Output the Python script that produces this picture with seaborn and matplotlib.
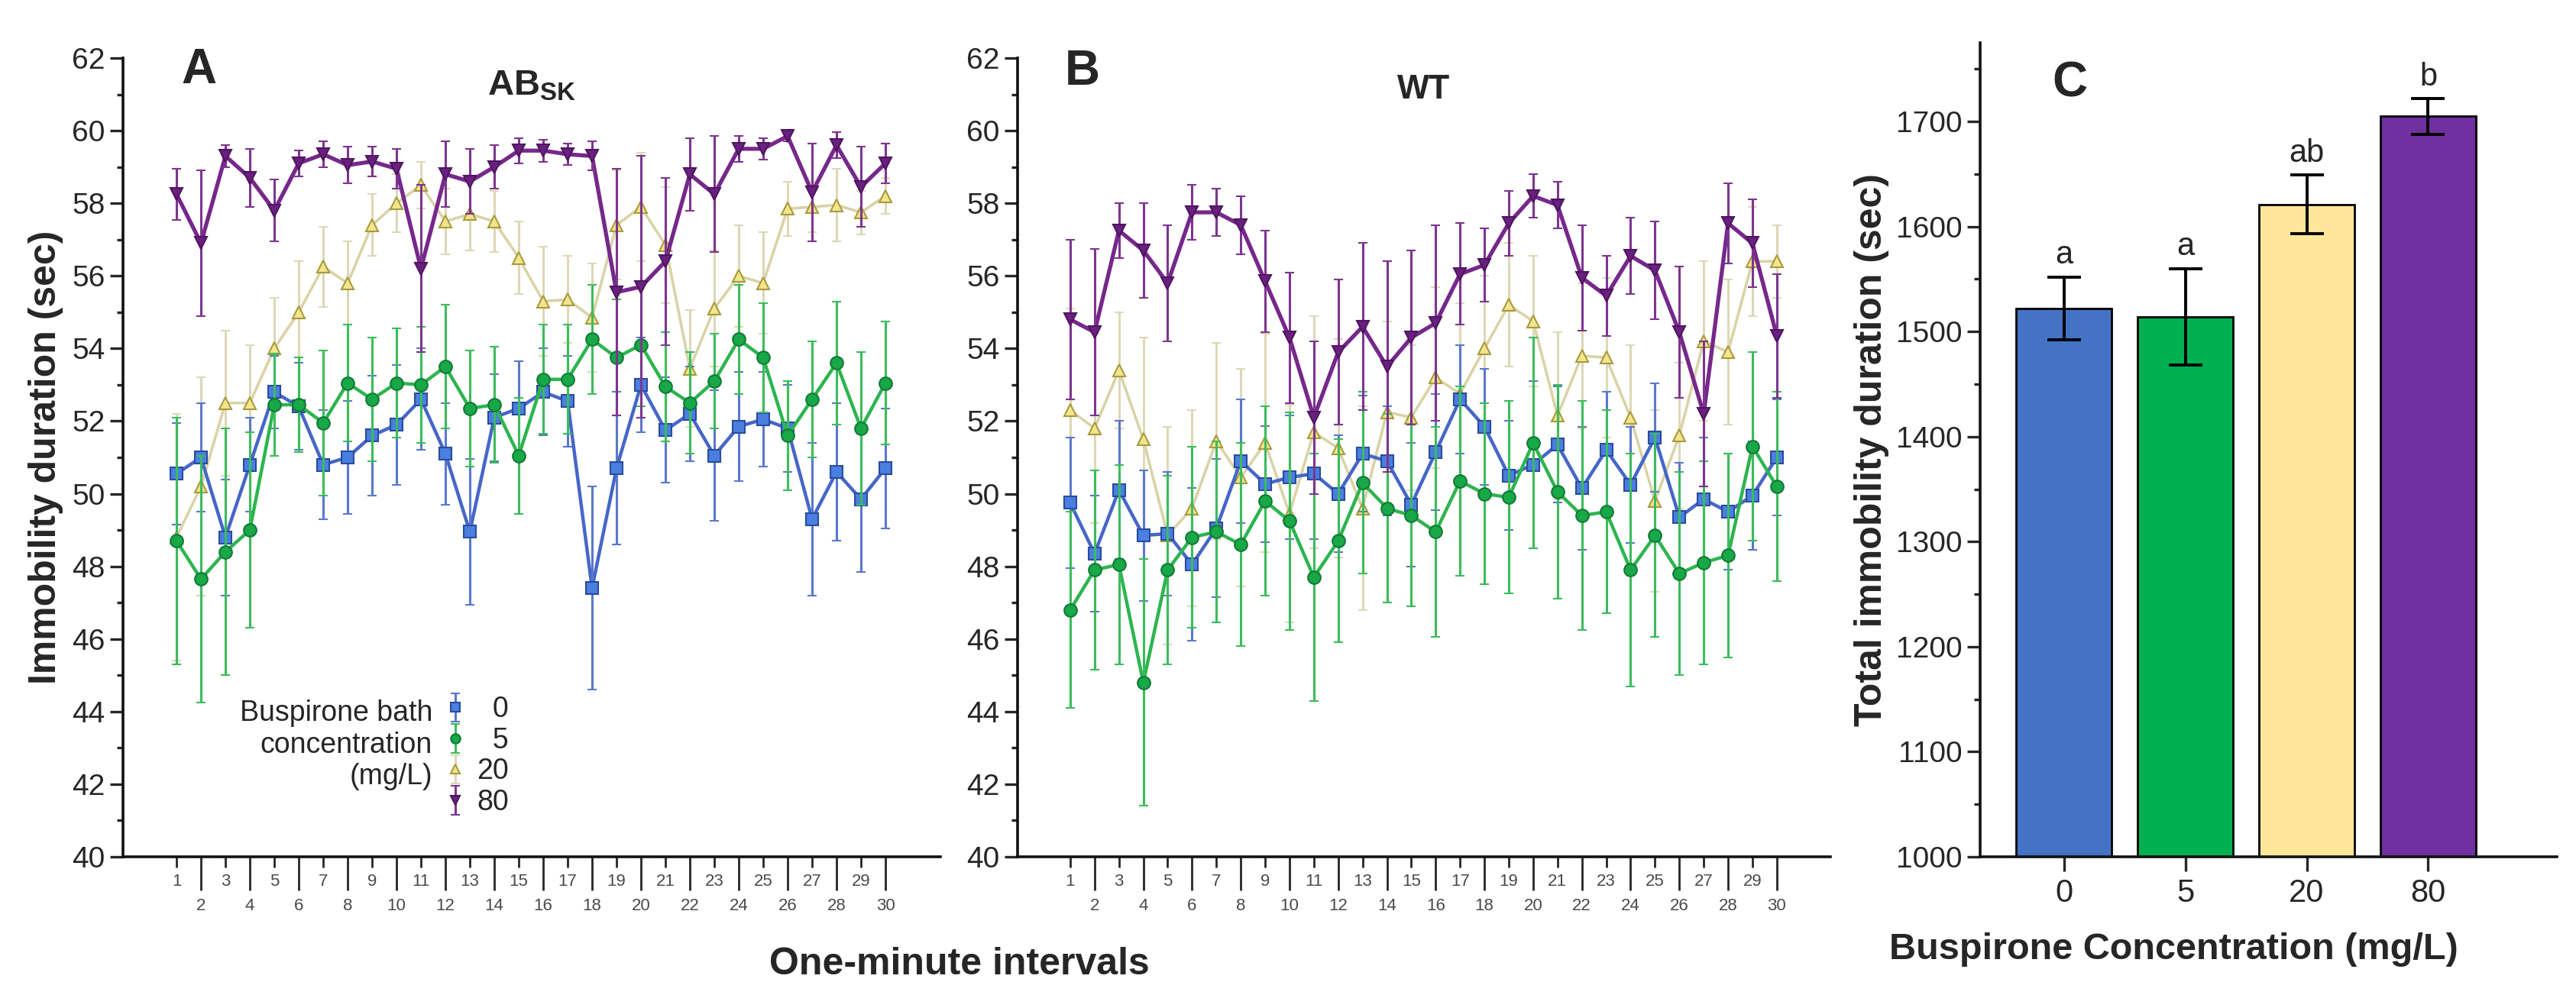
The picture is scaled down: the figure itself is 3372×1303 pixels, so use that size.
import numpy as np
import pandas as pd
import matplotlib
matplotlib.use("Agg")
import matplotlib.pyplot as plt
import seaborn as sns
from matplotlib.ticker import MultipleLocator

sns.set_theme(style="ticks")
plt.rcParams['font.family'] = ['Liberation Sans', 'DejaVu Sans']
plt.rcParams['mathtext.fontset'] = 'custom'
plt.rcParams['mathtext.bf'] = 'Liberation Sans:bold'
plt.rcParams['mathtext.rm'] = 'Liberation Sans'

minutes = list(range(1, 31))
conc_labels = ["0", "5", "20", "80"]

# A: AB_SK, mean immobility per minute and SE
a0 = [50.55, 51.0, 48.8, 50.8, 52.8, 52.4, 50.8, 51.0, 51.6, 51.9, 52.6, 51.1, 48.95, 52.1, 52.35,
      52.8, 52.55, 47.4, 50.7, 53.0, 51.75, 52.2, 51.05, 51.85, 52.05, 51.8, 49.3, 50.6, 49.85, 50.7]
a0_se = [1.4, 1.5, 1.6, 1.3, 1.0, 1.2, 1.5, 1.55, 1.65, 1.65, 1.4, 1.4, 2.0, 1.2, 1.3,
         1.2, 1.25, 2.8, 2.1, 1.3, 1.45, 1.3, 1.8, 1.5, 1.3, 1.2, 2.1, 1.9, 2.0, 1.65]
a5 = [48.7, 47.65, 48.4, 49.0, 52.45, 52.45, 51.95, 53.05, 52.6, 53.05, 53.0, 53.5, 52.35, 52.45, 51.05,
      53.15, 53.15, 54.25, 53.75, 54.1, 52.95, 52.5, 53.1, 54.25, 53.75, 51.6, 52.6, 53.6, 51.8, 53.05]
a5_se = [3.4, 3.4, 3.4, 2.7, 1.4, 1.3, 2.0, 1.6, 1.7, 1.5, 1.6, 1.7, 1.6, 1.6, 1.6,
         1.5, 1.5, 1.5, 1.6, 1.7, 1.5, 1.4, 1.3, 1.5, 1.5, 1.5, 1.6, 1.7, 2.1, 1.7]
a20 = [48.8, 50.2, 52.5, 52.5, 54.0, 55.0, 56.25, 55.8, 57.4, 58.0, 58.5, 57.5, 57.7, 57.5, 56.5,
       55.3, 55.35, 54.85, 57.4, 57.9, 56.85, 53.45, 55.1, 56.0, 55.8, 57.85, 57.9, 57.95, 57.75, 58.2]
a20_se = [3.4, 3.0, 2.0, 1.6, 1.4, 1.4, 1.1, 1.15, 0.85, 0.8, 0.65, 0.9, 1.0, 0.85, 1.0,
          1.5, 1.2, 1.5, 1.5, 1.5, 1.6, 1.6, 1.6, 1.4, 1.4, 0.75, 0.7, 1.0, 0.6, 0.5]
a80 = [58.25, 56.9, 59.3, 58.7, 57.8, 59.1, 59.35, 59.05, 59.15, 58.95, 56.2, 58.8, 58.6, 59.0, 59.45,
       59.45, 59.35, 59.3, 55.55, 55.7, 56.4, 58.8, 58.25, 59.5, 59.5, 59.85, 58.3, 59.6, 58.45, 59.1]
a80_se = [0.7, 2.0, 0.3, 0.8, 0.85, 0.35, 0.35, 0.5, 0.4, 0.55, 2.3, 0.9, 0.9, 0.6, 0.35,
          0.3, 0.3, 0.4, 3.4, 3.6, 2.3, 1.0, 1.6, 0.35, 0.3, 0.15, 1.35, 0.35, 1.1, 0.55]

# B: WT
b0 = [49.75, 48.35, 50.1, 48.85, 48.9, 48.05, 49.05, 50.9, 50.27, 50.45, 50.55, 50.0, 51.1, 50.9, 49.7,
      51.15, 52.6, 51.85, 50.5, 50.8, 51.35, 50.15, 51.2, 50.25, 51.55, 49.35, 49.85, 49.5, 49.95, 51.0]
b0_se = [1.8, 1.6, 1.9, 1.8, 1.7, 2.1, 1.9, 1.7, 1.6, 1.7, 1.8, 1.6, 1.6, 1.5, 1.7,
         1.6, 1.5, 1.6, 1.5, 2.3, 1.6, 1.7, 1.6, 1.6, 1.5, 1.5, 1.7, 1.6, 1.5, 1.6]
b5 = [46.8, 47.9, 48.05, 44.8, 47.9, 48.8, 48.95, 48.6, 49.8, 49.25, 47.7, 48.7, 50.3, 49.6, 49.4,
      48.95, 50.35, 50.0, 49.9, 51.4, 50.05, 49.4, 49.5, 47.9, 48.85, 47.8, 48.1, 48.3, 51.3, 50.2]
b5_se = [2.7, 2.75, 2.75, 3.4, 2.6, 2.5, 2.5, 2.8, 2.6, 3.0, 3.4, 2.8, 2.5, 2.6, 2.5,
         2.9, 2.6, 2.5, 2.65, 2.9, 2.95, 3.15, 2.8, 3.2, 2.8, 2.8, 2.8, 2.8, 2.6, 2.6]
b20 = [52.3, 51.8, 53.4, 51.5, 48.85, 49.6, 51.45, 50.45, 51.4, 49.45, 51.7, 51.25, 49.6, 52.25, 52.1,
       53.2, 52.75, 54.0, 55.2, 54.75, 52.15, 53.8, 53.75, 52.1, 49.8, 51.6, 54.2, 53.9, 56.4, 56.4]
b20_se = [2.8, 2.6, 1.6, 2.8, 3.0, 2.7, 2.7, 3.0, 3.0, 3.0, 3.2, 3.0, 2.8, 2.5, 2.0,
          2.5, 2.5, 2.0, 1.7, 1.8, 2.3, 2.0, 2.2, 2.0, 2.5, 2.0, 2.2, 2.0, 1.5, 1.0]
b80 = [54.8, 54.45, 57.25, 56.7, 55.8, 57.75, 57.75, 57.4, 55.85, 54.3, 52.1, 53.9, 54.6, 53.5, 54.3,
       54.7, 56.05, 56.3, 57.45, 58.2, 57.95, 55.95, 55.45, 56.55, 56.15, 54.45, 52.2, 57.45, 56.9, 54.35]
b80_se = [2.2, 2.3, 0.75, 1.3, 1.6, 0.75, 0.65, 0.8, 1.4, 1.8, 2.1, 2.0, 2.3, 2.9, 2.4,
          2.7, 1.4, 1.0, 0.9, 0.6, 0.65, 1.45, 1.1, 1.05, 1.35, 1.8, 2.0, 1.1, 1.2, 1.7]

# C: total immobility
c_mean = [1522, 1514, 1621, 1705]
c_se = [30, 46, 28, 17]
c_letters = ["a", "a", "ab", "b"]

# styles per concentration: line, marker face, marker edge, errorbar colour
styles = {
    "0":  dict(line="#4666c8", mfc="#4a7fe0", mec="#2a4c9e", ecol="#5a78cc", marker="s", ms=11, lw=3.2, z=3),
    "5":  dict(line="#2db54f", mfc="#18a847", mec="#117a36", ecol="#3cbc5c", marker="o", ms=12, lw=3.2, z=4),
    "20": dict(line="#d9d3a6", mfc="#f3e58e", mec="#a89a3c", ecol="#ddd8b6", marker="^", ms=12, lw=2.6, z=2),
    "80": dict(line="#76288a", mfc="#6a2080", mec="#4e155e", ecol="#7d3590", marker="v", ms=12, lw=3.8, z=5),
}
bar_colors = ["#4472c4", "#00b050", "#ffe699", "#7030a0"]

fig = plt.figure(figsize=(33.72, 13.03), dpi=100)
axA = fig.add_axes([0.04775, 0.13891, 0.31731, 0.80276])
axB = fig.add_axes([0.39502, 0.13891, 0.31554, 0.80276])
axC = fig.add_axes([0.76868, 0.13891, 0.22390, 0.81811])


def draw_time_panel(ax, means, ses, xlim):
    handles = []
    for lab, m, s in zip(conc_labels, means, ses):
        st = styles[lab]
        sns.lineplot(x=minutes, y=m, ax=ax, color=st["line"], linewidth=st["lw"], zorder=st["z"])
        h = ax.errorbar(minutes, m, yerr=s, fmt=st["marker"], linestyle="none", ms=st["ms"],
                        mfc=st["mfc"], mec=st["mec"], mew=1.5, ecolor=st["ecol"], elinewidth=2.2,
                        capsize=4, capthick=2.2, zorder=st["z"])
        handles.append(h)
    ax.set_xlim(*xlim)
    ax.set_ylim(40, 62)
    ax.yaxis.set_major_locator(MultipleLocator(2))
    ax.yaxis.set_minor_locator(MultipleLocator(1))
    ax.set_xticks(minutes[1::2])
    ax.set_xticklabels([str(v) for v in minutes[1::2]])
    ax.set_xticks(minutes[0::2], minor=True)
    ax.set_xticklabels([str(v) for v in minutes[0::2]], minor=True)
    ax.tick_params(axis="x", which="major", length=32, width=2, labelsize=16, pad=7, labelcolor="#4a4a4a")
    ax.tick_params(axis="x", which="minor", length=10, width=2, labelsize=16, pad=6, labelcolor="#4a4a4a")
    ax.tick_params(axis="y", which="major", length=12, width=2.4, labelsize=28, pad=5)
    ax.tick_params(axis="y", which="minor", length=6, width=2.4)
    sns.despine(ax=ax)
    for sp in ("left", "bottom"):
        ax.spines[sp].set_linewidth(2.6)
        ax.spines[sp].set_color("#111111")
    ax.set_xlabel("")
    ax.set_ylabel("")
    return handles


hA = draw_time_panel(axA, [a0, a5, a20, a80], [a0_se, a5_se, a20_se, a80_se], (-1.19, 32.25))
hB = draw_time_panel(axB, [b0, b5, b20, b80], [b0_se, b5_se, b20_se, b80_se], (-1.16, 32.2))

axA.set_ylabel("Immobility duration (sec)", fontsize=36, fontweight="bold", labelpad=8)

axA.text(0.093, 0.985, "A", transform=axA.transAxes, fontsize=46, fontweight="bold", va="center", ha="center")
axA.text(0.50, 0.965, r"$\mathbf{AB_{SK}}$", transform=axA.transAxes, fontsize=34, va="center", ha="center")
axB.text(0.08, 0.983, "B", transform=axB.transAxes, fontsize=46, fontweight="bold", va="center", ha="center")
axB.text(0.50, 0.96, "WT", transform=axB.transAxes, fontsize=32, fontweight="bold", va="center", ha="center")

# legend in panel A
axA.text(0.3785, 0.14, "Buspirone bath\nconcentration\n(mg/L)", transform=axA.transAxes,
         ha="right", va="center", multialignment="right", fontsize=27, linespacing=1.2)
axA.legend(hA, ["\u2007" + "0", "\u2007" + "5", "20", "80"], loc="center left",
           bbox_to_anchor=(0.391, 0.126), frameon=False, handlelength=0.9, handletextpad=0.3,
           labelspacing=0.12, borderpad=0, borderaxespad=0, markerscale=0.75,
           prop=dict(size=27, family=['Liberation Sans', 'DejaVu Sans']))

fig.text(0.3725, 0.031, "One-minute intervals", fontsize=36, fontweight="bold", ha="center", va="center")

# panel C
df_c = pd.DataFrame({"conc": conc_labels, "total": c_mean})
sns.barplot(data=df_c, x="conc", y="total", hue="conc", palette=bar_colors, legend=False,
            edgecolor="black", linewidth=2, width=0.79, saturation=1, ax=axC)
axC.errorbar(range(len(conc_labels)), c_mean, yerr=c_se, fmt="none", ecolor="black",
             elinewidth=2.8, capsize=16, capthick=2.8, zorder=5)
for i, (m, s, t) in enumerate(zip(c_mean, c_se, c_letters)):
    axC.text(i, m + s + 6, t, ha="center", va="bottom", fontsize=30)
axC.set_ylim(1000, 1775)
axC.set_xlim(-0.69, 4.06)
axC.yaxis.set_major_locator(MultipleLocator(100))
axC.yaxis.set_minor_locator(MultipleLocator(50))
axC.tick_params(axis="y", which="major", length=12, width=2.4, labelsize=28, pad=5)
axC.tick_params(axis="y", which="minor", length=6, width=2.4)
axC.tick_params(axis="x", which="major", length=14, width=2.4, labelsize=30, pad=6)
sns.despine(ax=axC)
for sp in ("left", "bottom"):
    axC.spines[sp].set_linewidth(2.6)
    axC.spines[sp].set_color("#111111")
axC.set_ylabel("Total immobility duration (sec)", fontsize=36, fontweight="bold", labelpad=6)
axC.set_xlabel("Buspirone Concentration (mg/L)", fontsize=35, fontweight="bold")
axC.xaxis.set_label_coords(0.336, -0.093)
axC.text(0.155, 0.95, "C", transform=axC.transAxes, fontsize=46, fontweight="bold", va="center",
         ha="center")

fig.savefig("out.png", dpi=100, facecolor="white")
